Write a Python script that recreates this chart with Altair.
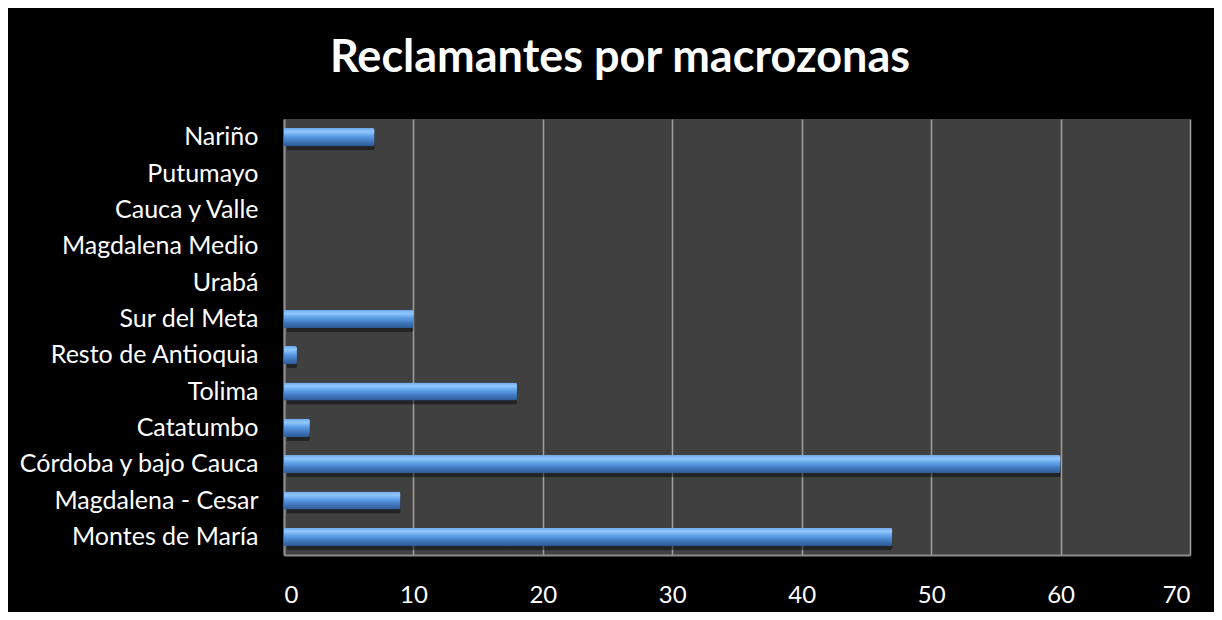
import altair as alt
import pandas as pd

categories = [
    "Nariño", "Putumayo", "Cauca y Valle", "Magdalena Medio", "Urabá",
    "Sur del Meta", "Resto de Antioquia", "Tolima", "Catatumbo",
    "Córdoba y bajo Cauca", "Magdalena - Cesar ", "Montes de María",
]
values = [7, 0, 0, 0, 0, 10, 1, 18, 2, 60, 9, 47]
x_ticks = [0, 10, 20, 30, 40, 50, 60, 70]

df = pd.DataFrame({"zona": categories, "reclamantes": values})

FONT = "Lato"

y_enc = alt.Y(
    "zona:N",
    sort=categories,
    scale=alt.Scale(paddingInner=0.5, paddingOuter=0.25),
    axis=alt.Axis(
        title=None, labelColor="white", labelFont=FONT, labelFontSize=25,
        labelPadding=26, ticks=False, domainColor="#8c8c8c", domainWidth=2,
        grid=False, labelLimit=400,
    ),
)
x_enc = alt.X(
    "reclamantes:Q",
    scale=alt.Scale(domain=[0, 70], nice=False),
    axis=alt.Axis(
        title=None, values=x_ticks, labelColor="white", labelFont=FONT,
        labelFontSize=24, labelPadding=28, ticks=False, domainColor="#8c8c8c",
        domainWidth=2, grid=True, gridColor="#a0a0a0", gridWidth=1.5,
    ),
)

shadow = alt.Chart(df).mark_bar(
    color="black", opacity=0.45, xOffset=3, yOffset=4, cornerRadiusEnd=2
).encode(x=x_enc, y=y_enc)

bars = alt.Chart(df).mark_bar(
    color=alt.Gradient(
        gradient="linear",
        stops=[
            alt.GradientStop(color="#6fa8e8", offset=0),
            alt.GradientStop(color="#8fc8ff", offset=0.2),
            alt.GradientStop(color="#5c9ee6", offset=0.45),
            alt.GradientStop(color="#3f74b8", offset=0.75),
            alt.GradientStop(color="#2c5a96", offset=1),
        ],
        x1=0, x2=0, y1=0, y2=1,
    ),
    cornerRadiusEnd=2,
).encode(x=x_enc, y=y_enc, tooltip=["zona", "reclamantes"])

chart = (
    alt.layer(shadow, bars)
    .properties(
        width=906,
        height=436,
        background="black",
        padding={"left": 276, "top": 111, "right": 24, "bottom": 57},
        autosize=alt.AutoSizeParams(type="none"),
        title=alt.TitleParams(
            "Reclamantes por macrozonas", color="white", font=FONT,
            fontSize=45, fontWeight="bold", anchor="middle", dx=-117, offset=38,
        ),
    )
    .configure_view(fill="#404040", stroke=None)
)

chart.save("out.html", embed_options={"renderer": "svg", "actions": False})
